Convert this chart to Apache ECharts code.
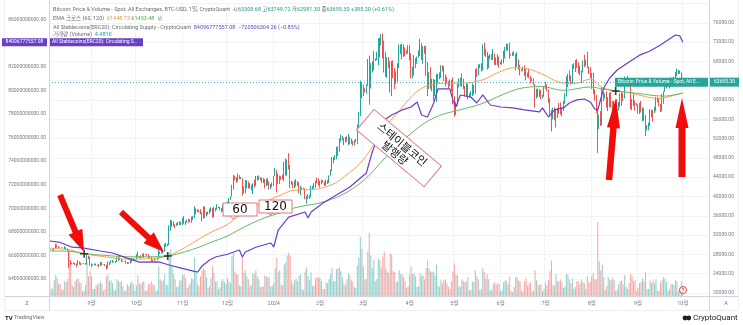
<!DOCTYPE html>
<html><head><meta charset="utf-8">
<script src="https://cdn.jsdelivr.net/npm/echarts@6/dist/echarts.min.js"></script>
<style>html,body{margin:0;padding:0;background:#fff}#c{width:743px;height:325px}</style>
</head><body><div id="c"></div>
<script>
// ---------- DATA ----------
const startDate = '2023-08-04';
const dayCount = 442;           // category slots on the time axis (incl. right margin)
const firstOpen = 29170;
const closes = [
29050,29040,29040,29180,29770,29570,29430,29400,29420,29280,29400,29170,28700,26630,26050,26100,26190,26120,26040,26430,26160,26050,26010,26090,26110,27730,27300,25930,
25800,25870,25970,25820,25780,25750,26240,25910,25900,25830,25160,25840,26230,26530,26610,26570,26530,26760,27210,27130,26570,26580,26580,26250,26300,26220,26370,27020,26910,26970,
27990,27510,27430,27800,27420,27950,27970,27940,27590,27390,26880,26760,26860,26860,27160,28520,28420,28330,28720,29680,29920,30000,33090,33920,34500,34160,33900,34090,34540,34500,34670,
35440,34940,34730,35080,35050,35050,35420,35650,36700,37330,37140,37070,36500,35540,37880,36160,36600,36590,37390,37480,35810,37420,37290,37720,37800,37480,37250,37830,37860,37720,
38690,39470,39980,41990,44080,43770,43290,44170,43720,43790,41240,41450,42890,43020,41940,42260,41360,42660,42270,43660,43860,43990,43740,43010,43610,42520,43440,42580,42070,42140,42280,
44180,44950,42850,44180,44160,43970,43930,46970,46120,46650,46340,42780,42840,41730,42510,43150,42740,41260,41620,41660,41550,39510,39850,40080,39930,41820,42120,42030,43300,42940,42580,
43080,43190,43000,42580,42660,43090,44340,45290,47130,47770,48290,49960,49740,51830,51940,52140,51640,52120,51780,52270,51840,51300,50730,51570,51730,54480,57050,62500,61200,
62430,62030,63130,68330,63800,66100,66930,68300,68500,69020,72100,71450,73080,71400,69400,65300,68390,67600,61930,67840,65500,63780,64050,67210,69960,69990,69450,70780,69900,69650,71330,
69700,65470,65980,68500,67840,68900,69360,71620,69140,70590,70060,67190,63820,65740,63420,63790,61280,63510,63840,64990,64940,66840,66410,64290,64500,63770,63460,63120,63860,60610,
58250,59120,62890,63890,64030,63160,62330,61190,63070,60790,60790,61450,62900,61550,66270,65230,67050,66940,66280,71450,70140,69120,67930,68530,69260,68510,69400,68300,67580,68350,67490,
67710,67750,68800,70560,71080,70790,69350,69300,69650,69510,67320,68240,66750,66010,66190,66640,66490,65150,64960,64840,64100,64260,63180,60280,61800,60860,61680,60320,60890,62680,
62850,62030,60200,57060,56660,58230,55850,56710,58050,57720,57340,57890,59200,60800,64720,65040,64100,63970,66680,67150,68170,67570,65930,65370,65780,67910,67810,68250,66780,66190,64620,
65350,61500,60700,58120,54020,56030,55130,61690,60840,60920,58710,59350,60600,58740,57560,58880,59490,58430,59480,59010,61160,60380,64090,64160,64220,62830,59420,59030,59380,59130,58970,
57300,59130,57480,57970,56160,53950,54160,54880,57040,57650,57340,58130,60570,60000,59130,58210,60310,61760,62950,63200,63350,63580,63330,64300,63140,65180,65790,65890,65600,63308.68,
63695.30];
const highs = [
29310,29110,29160,29240,30180,30060,29680,29540,29470,29450,29680,29460,29230,28780,26810,26260,26290,26260,26130,26790,26560,26310,26100,26170,26220,28140,27760,27570,
26130,25980,26110,26100,25880,26000,26430,26410,25940,26010,25870,26550,26390,26810,26860,26690,26620,27400,27480,27380,27160,26720,26620,26730,26430,26390,26830,27310,27230,27090,
28040,28580,27670,27840,28120,28270,28030,28100,27990,27730,27480,26940,27100,26980,27290,30000,28620,28980,28920,30200,30350,30200,34000,35150,35100,34820,34250,34480,34750,34860,34720,
35560,35950,34950,35260,35400,35270,35860,35980,37970,37520,37400,37240,37380,36760,37970,37920,36840,36840,37500,37750,37650,37860,37650,38420,37900,37830,37600,38380,38160,38020,
38990,39680,40000,42420,44480,44300,44030,44720,44400,44050,43800,42100,43440,43400,43090,42750,42440,42750,43480,44240,44290,44370,43990,43930,43800,43620,43680,43800,43120,42600,42900,
44200,45900,45500,44740,44350,44200,44500,47250,47900,47650,48970,46520,43250,43050,43350,43580,43190,42930,42180,41870,41830,41680,40130,40500,40280,42210,42200,42800,43300,43880,43740,
43280,43480,43380,43100,43500,43350,44380,45600,48200,48150,48560,50300,50380,52050,52840,52580,52170,52340,52480,52990,52350,52000,51560,51680,51920,54880,57550,64000,63650,
63200,62450,63250,68500,69200,67650,67980,70150,68650,70000,72800,72900,73650,73780,72300,70000,68900,68900,68100,68100,68200,66600,65950,67600,71500,71500,71700,71500,70900,70300,71360,
71350,69700,66900,69300,68700,69000,70300,72700,71750,71200,71200,71250,67900,65800,66800,64400,64400,64200,65400,65400,65700,67200,67200,67050,65300,64800,63900,64300,64200,64700,
60800,59600,63300,64500,64600,65500,64400,62900,63400,63400,61400,61800,63400,63100,66400,66600,67400,67400,67600,71500,71900,70600,70000,69200,69500,69500,70600,69600,68800,69500,69000,
67900,68400,70200,71000,71700,71600,71900,69500,69900,70100,69600,69900,68400,67300,66400,66900,67200,66500,65700,66400,65000,64500,64500,63300,62300,62400,62200,62100,61100,62900,
63800,63200,62200,60400,58000,58400,58500,58200,58300,59400,59500,58500,59800,61400,64900,65400,66100,65100,67400,67600,68300,68500,67800,67100,66100,68200,69400,68300,70000,66900,66800,
65600,65600,62200,61100,58300,57000,57700,62700,61700,61400,61800,60600,61500,61700,59800,59800,59700,60200,59600,61400,61800,61400,64900,64500,65000,64500,63200,60200,61200,59900,59400,
59100,59400,59800,58500,58300,56900,54800,55300,58100,58000,57900,58600,60600,60600,60400,59200,61300,61800,63800,64100,63500,64000,64800,64600,64800,65800,66500,66200,66100,65700,
63749.72];
const lows = [
28750,28960,28960,28700,29120,29380,29350,29350,29360,29250,29100,29060,28660,25170,25800,25980,26010,25820,25350,25800,25880,25780,25990,25970,25880,25920,27020,25650,
25340,25710,25800,25650,25570,25400,25640,25660,25810,25600,24900,25140,25750,26130,26240,26480,26180,26400,26680,26800,26370,26470,26520,26050,25990,26100,26120,26340,26680,26880,
26950,27360,27200,27230,27370,27300,27860,27700,27300,27300,26570,26550,26700,26810,26820,27120,28100,28160,28200,28620,29500,29680,29900,32900,33720,33800,33400,33880,34050,34080,34100,
34100,34350,34100,34600,34550,34760,34530,35120,35540,36350,36750,36700,36350,34800,35370,35550,35880,36220,36390,36780,35650,35680,36900,37250,37600,37170,36720,36880,37620,37500,
37620,38650,39300,39980,41420,43350,42850,43100,43600,43580,40220,40690,40620,41710,41670,41640,41260,40540,41830,42200,43330,43420,43310,42800,42750,41660,42120,42300,41420,41540,41980,
42180,44180,40800,42630,42600,43430,43600,43200,44300,44350,45600,41750,42450,41700,41700,42050,42210,40670,40280,41450,41530,39430,38500,39500,39500,39820,41400,41620,41800,42700,42300,
41880,42580,42880,42200,42260,42590,42790,44300,45250,46900,47550,47750,48380,49280,51350,51620,50650,51180,51400,50650,50850,50900,50550,50600,51300,50900,54430,56700,60400,
60800,61600,61320,62950,59000,62400,65700,66100,68100,68250,67200,68800,71300,68600,65700,64800,64600,66600,61550,60800,64500,62300,63300,63800,66600,69500,68400,68900,69100,69500,69600,
68200,64500,64500,65100,66600,67500,68750,69100,68300,67500,69600,65000,60800,62300,62300,61800,59800,60800,59600,63200,64300,64600,65900,63900,62800,63300,62400,62800,61800,59100,
56550,56900,58800,62600,62900,62700,62200,60700,60600,60200,60500,60600,60800,61100,61300,64800,65100,66600,65900,66100,69200,68900,66300,66600,68500,68300,68300,67300,67200,67200,66700,
67400,67300,67600,68600,70200,70200,68500,69200,69100,69200,66100,66900,66300,65100,65900,66000,65000,64100,64700,64500,63400,63900,63100,58400,60300,60600,60600,60100,60300,60700,
62300,61800,59400,56800,53500,56000,55800,54300,56300,57200,57000,56600,57800,59200,60700,62700,63900,63200,63300,66500,65800,66600,65500,65100,63500,65700,66800,67100,66600,65400,64500,
62300,61200,59900,57300,49000,54000,54600,54800,59700,60300,58400,57700,58500,58400,56100,57200,58800,58400,57800,58600,58800,59800,60300,63600,63800,62700,58100,57900,58800,57800,58800,
57200,57100,57400,55600,55700,52550,53700,53700,54600,56400,55500,57300,57700,59500,58700,57500,57600,59200,61700,62400,62800,62400,62700,62700,62900,62700,64900,65400,65400,62800,
62981.30];
const volumes = [ // thousand BTC
30,14,15,32,42,36,26,24,12,13,30,28,34,92,70,22,18,30,34,36,28,26,10,10,22,68,40,50,
40,14,14,22,24,26,28,24,10,14,40,44,30,32,26,12,12,34,30,28,30,20,9,12,24,20,26,30,24,10,
22,42,26,24,28,30,10,12,26,24,30,24,22,9,12,60,34,30,32,44,24,22,88,95,60,44,34,18,20,32,32,
42,44,36,16,20,26,36,34,78,46,24,20,40,52,56,52,38,16,20,36,60,46,30,30,14,18,30,34,28,24,
36,30,26,80,86,50,44,44,22,20,80,46,52,40,34,20,22,46,44,52,40,34,18,18,20,42,40,38,38,20,20,
26,56,78,48,52,22,22,64,68,82,88,82,32,24,32,36,30,40,44,14,12,50,58,40,32,48,20,22,36,38,38,
36,30,14,14,28,26,34,44,56,30,30,54,56,58,50,38,26,22,34,46,42,32,30,18,16,62,78,120,96,
60,34,34,90,128,82,56,74,30,34,76,72,58,80,90,56,50,46,86,84,50,48,28,30,52,44,44,38,30,16,20,
44,60,44,46,40,18,20,46,40,42,34,56,72,56,50,48,50,42,64,22,18,32,26,32,34,26,18,14,30,50,
66,44,42,20,18,34,30,28,30,38,12,12,30,28,52,40,34,12,14,56,48,34,44,34,12,12,24,28,22,26,24,
9,12,28,32,30,24,40,10,8,18,38,38,32,30,10,9,30,36,22,26,28,9,10,52,32,22,22,24,9,14,
26,22,32,50,72,22,22,44,30,30,34,28,16,20,44,44,34,26,36,14,18,30,30,24,34,28,26,14,40,28,28,
40,46,34,34,150,70,52,64,38,12,20,38,34,32,38,32,10,12,24,30,32,24,42,18,14,26,44,40,30,32,10,
16,26,28,36,30,48,14,14,32,26,32,26,34,10,10,28,32,38,36,28,10,14,24,24,22,32,30,10,10,30,
4.481];
const ema60Dates = ['2023-08-04','2023-08-18','2023-08-27','2023-09-10','2023-09-25','2023-10-08','2023-10-22','2023-11-03','2023-11-12','2023-11-20','2023-12-01','2023-12-08','2023-12-17','2023-12-26','2024-01-05','2024-01-13','2024-01-22','2024-01-31','2024-02-12','2024-02-19','2024-02-26','2024-03-04','2024-03-10','2024-03-16','2024-03-23','2024-04-01','2024-04-10','2024-04-18','2024-04-28','2024-05-08','2024-05-20','2024-05-31','2024-06-10','2024-06-20','2024-06-30','2024-07-10','2024-07-20','2024-07-31','2024-08-08','2024-08-17','2024-08-26','2024-09-06','2024-09-15','2024-09-23','2024-10-01'];
const ema60Values = [29300,28900,28150,27500,27000,27100,27670,29500,31200,32600,34200,35800,37600,38900,40200,41200,41400,41600,42900,44600,46300,48900,51800,54600,57000,60300,62600,63300,63500,63500,64200,65800,66700,66400,65200,63700,63400,64300,62600,61870,61500,60700,60300,60800,61448.73];
const ema120Dates = ['2023-08-04','2023-08-17','2023-08-27','2023-09-10','2023-09-25','2023-10-08','2023-10-22','2023-11-03','2023-11-12','2023-11-20','2023-12-01','2023-12-08','2023-12-17','2023-12-26','2024-01-05','2024-01-13','2024-01-22','2024-01-31','2024-02-12','2024-02-19','2024-02-26','2024-03-04','2024-03-12','2024-03-21','2024-03-30','2024-04-10','2024-04-21','2024-05-04','2024-05-19','2024-06-03','2024-06-14','2024-06-28','2024-07-13','2024-07-31','2024-08-08','2024-08-17','2024-08-31','2024-09-18','2024-10-01'];
const ema120Values = [28700,28650,28150,27800,27500,27500,27670,28600,29500,30500,31800,33000,34400,35600,36600,37500,38100,38600,39800,40900,42300,44100,46800,49800,52300,55000,56800,57900,59200,61200,62400,62800,62000,62700,62300,61870,61400,60800,61453.48];
const stableDates = ['2023-08-04','2023-08-10','2023-08-14','2023-08-19','2023-08-26','2023-09-07','2023-09-15','2023-09-25','2023-10-03','2023-10-16','2023-10-23','2023-10-31','2023-11-11','2023-11-14','2023-11-19','2023-11-23','2023-12-01','2023-12-09','2023-12-11','2023-12-13','2023-12-20','2023-12-30','2024-01-01','2024-01-04','2024-01-11','2024-01-22','2024-01-24','2024-01-26','2024-02-03','2024-02-12','2024-02-21','2024-03-03','2024-03-07','2024-03-15','2024-03-20','2024-03-27','2024-04-02','2024-04-06','2024-04-09','2024-04-13','2024-04-17','2024-04-20','2024-04-28','2024-04-30','2024-05-02','2024-05-05','2024-05-12','2024-05-16','2024-05-20','2024-05-25','2024-06-01','2024-06-09','2024-06-17','2024-06-27','2024-06-29','2024-07-03','2024-07-07','2024-07-13','2024-07-17','2024-07-22','2024-07-27','2024-07-31','2024-08-03','2024-08-05','2024-08-09','2024-08-13','2024-08-18','2024-08-23','2024-08-28','2024-09-02','2024-09-09','2024-09-16','2024-09-20','2024-09-26','2024-09-29','2024-10-01'];
const stableValues = [67.23e9,67.14e9,66.95e9,66.70e9,66.65e9,66.38e9,66.21e9,65.78e9,65.44e9,65.45e9,65.19e9,64.93e9,64.59e9,65.10e9,65.61e9,65.87e9,66.10e9,66.46e9,65.87e9,66.29e9,66.70e9,67.06e9,66.72e9,68.16e9,69.26e9,69.69e9,69.18e9,69.69e9,70.45e9,71.13e9,71.81e9,73.00e9,74.78e9,77.50e9,77.92e9,78.35e9,78.60e9,79.03e9,77.92e9,77.75e9,78.90e9,80.13e9,80.13e9,79.20e9,78.60e9,79.62e9,79.45e9,78.94e9,79.62e9,78.77e9,78.60e9,78.52e9,78.35e9,78.18e9,78.52e9,77.75e9,78.35e9,78.52e9,78.94e9,79.20e9,79.28e9,79.03e9,78.43e9,78.35e9,80.21e9,81.06e9,81.74e9,82.17e9,82.59e9,83.00e9,83.35e9,83.86e9,84.20e9,84.71e9,84.63e9,84096777557.08];
const crossDates = ['2023-08-27','2023-10-22','2024-08-17'];
const crossValues = [28150,27670,61870];
const lastPrice = 63695.30;
const lastStable = 84096777557.08;
const priceTicks = {min:20000, max:80000, step:4000};
const stableTicks = {min:62e9, max:86e9, step:2e9};

// ---------- BUILD ----------
const cats = [];
{ const d = new Date(startDate + 'T00:00:00Z');
  for (let i = 0; i < dayCount; i++) { cats.push(d.toISOString().slice(0,10)); d.setUTCDate(d.getUTCDate()+1); } }
const UP = '#26a69a', DOWN = '#ef5350';
const candle = closes.map((c,i) => { const o = i === 0 ? firstOpen : closes[i-1]; return [o, c, lows[i], highs[i]]; });
const vol = volumes.map((v,i) => ({ value: v, itemStyle: { color: candle[i][1] >= candle[i][0] ? 'rgba(38,166,154,0.5)' : 'rgba(239,83,80,0.5)' } }));
const pairs = (ds, vs) => ds.map((d,i) => [d, vs[i]]);
const FONT = 'Roboto, "Noto Sans CJK KR", sans-serif';
const isMonthStart = (idx, v) => v.slice(8) === '01';
const monthLabel = v => { const m = +v.slice(5,7); return m === 1 ? v.slice(0,4) : m + '월'; };

const chart = echarts.init(document.getElementById('c'), null, {renderer:'canvas'});
const G = {left:49, right:34};
chart.setOption({
  animation:false,
  backgroundColor:'#fff',
  grid:[
    {left:G.left, right:G.right, top:3.5, bottom:32},
    {left:G.left, right:G.right, top:0, bottom:29},
    {left:G.left, right:G.right, top:19.8, bottom:22.4}
  ],
  xAxis:[
    {type:'category', gridIndex:0, data:cats, show:false},
    {type:'category', gridIndex:1, data:cats, axisLine:{show:false}, axisTick:{show:false},
     axisLabel:{interval:isMonthStart, formatter:monthLabel, fontSize:5.5, color:'#787b86', margin:5, fontFamily:FONT},
     splitLine:{show:true, interval:isMonthStart, lineStyle:{color:'#f0f3fa', width:1}}},
    {type:'category', gridIndex:2, data:cats, show:false}
  ],
  yAxis:[
    {type:'value', gridIndex:0, position:'right', min:priceTicks.min, max:priceTicks.max, interval:priceTicks.step,
     axisLine:{show:false}, axisTick:{show:false},
     axisLabel:{formatter:v=>v.toFixed(2), fontSize:5, color:'#787b86', margin:4, showMaxLabel:false, fontFamily:FONT},
     splitLine:{lineStyle:{color:'#f0f3fa'}}},
    {type:'value', gridIndex:1, min:0, max:600, show:false},
    {type:'value', gridIndex:2, position:'left', min:stableTicks.min, max:stableTicks.max, interval:stableTicks.step,
     axisLine:{show:false}, axisTick:{show:false}, splitLine:{show:false},
     axisLabel:{formatter:v=>v.toFixed(2), fontSize:5, color:'#787b86', margin:3, showMinLabel:false, fontFamily:FONT}}
  ],
  series:[
    {type:'bar', name:'volume', xAxisIndex:1, yAxisIndex:1, data:vol, barWidth:'70%', z:1},
    {type:'candlestick', name:'BTC', xAxisIndex:0, yAxisIndex:0, data:candle, barWidth:'75%', z:3,
     itemStyle:{color:UP, color0:DOWN, borderColor:UP, borderColor0:DOWN, borderWidth:1},
     markLine:{silent:true, symbol:['none','none'], label:{show:false},
       lineStyle:{color:'#26a69a', type:[1,2], width:1, opacity:0.8}, data:[{yAxis:lastPrice}]}},
    {type:'line', name:'EMA60', xAxisIndex:0, yAxisIndex:0, data:pairs(ema60Dates, ema60Values), showSymbol:false, smooth:0.35,
     lineStyle:{color:'#f6a254', width:1}, z:4},
    {type:'line', name:'EMA120', xAxisIndex:0, yAxisIndex:0, data:pairs(ema120Dates, ema120Values), showSymbol:false, smooth:0.35,
     lineStyle:{color:'#68b86a', width:1}, z:4},
    {type:'line', name:'Stablecoins', xAxisIndex:2, yAxisIndex:2, data:pairs(stableDates, stableValues), showSymbol:false,
     lineStyle:{color:'#6a3fc8', width:1.2}, z:5},
    {type:'scatter', name:'cross', xAxisIndex:0, yAxisIndex:0, data:pairs(crossDates, crossValues),
     symbol:'path://M4,0h2v4h4v2h-4v4h-2v-4h-4v-2h4z', symbolSize:8, itemStyle:{color:'#111'}, z:8}
  ]
});

// ---------- ANNOTATIONS ----------
const yPrice = chart.convertToPixel({yAxisIndex:0}, lastPrice);
const yStable = chart.convertToPixel({yAxisIndex:2}, lastStable);
function arrow(tx,ty,hx,hy,w,hl,hw){
  const dx=hx-tx, dy=hy-ty, L=Math.hypot(dx,dy), ux=dx/L, uy=dy/L, px=-uy, py=ux;
  const bx=hx-ux*hl, by=hy-uy*hl;
  return [[tx+px*w/2,ty+py*w/2],[bx+px*w/2,by+py*w/2],[bx+px*hw/2,by+py*hw/2],[hx,hy],
          [bx-px*hw/2,by-py*hw/2],[bx-px*w/2,by-py*w/2],[tx-px*w/2,ty-py*w/2]];
}
const red = '#f20d0d';
const box = (x,y,w,h,txt,tipX,tipY) => ([
  {type:'polygon', shape:{points:[[tipX-3,y+h-0.5],[tipX+4,y+h-0.5],[tipX,tipY]]}, style:{fill:'#fff', stroke:'#e07a7a', lineWidth:1}, z:20},
  {type:'rect', shape:{x,y,width:w,height:h}, style:{fill:'#fff', stroke:'#e07a7a', lineWidth:1}, z:21},
  {type:'text', x:x+w/2, y:y+h/2+0.5, style:{text:txt, font:'12px "DejaVu Sans", sans-serif', fill:'#111', align:'center', verticalAlign:'middle'}, z:22}
]);
const LF = '5.5px ' + FONT;
const legendRich = {
  g:{fill:'#6a6d78', font:LF},
  t:{fill:'#22a094', font:LF},
  o:{fill:'#f39a3e', font:LF},
  gr:{fill:'#4caf50', font:LF},
  p:{fill:'#6a3fc8', font:LF}
};
const leg = (y, text) => ({type:'text', x:53, y, style:{text, rich:legendRich, verticalAlign:'middle'}, z:30});
chart.setOption({graphic:[
  // frame lines
  {type:'line', shape:{x1:49.5,y1:0,x2:49.5,y2:310}, style:{stroke:'#d1d4dc', lineWidth:1}, z:10},
  {type:'line', shape:{x1:709.5,y1:0,x2:709.5,y2:310}, style:{stroke:'#d1d4dc', lineWidth:1}, z:10},
  {type:'line', shape:{x1:4,y1:296.5,x2:738,y2:296.5}, style:{stroke:'#d1d4dc', lineWidth:1}, z:10},
  {type:'line', shape:{x1:4,y1:310.5,x2:738,y2:310.5}, style:{stroke:'#eceef2', lineWidth:1}, z:10},
  {type:'line', shape:{x1:4.5,y1:0,x2:4.5,y2:310}, style:{stroke:'#eceef2', lineWidth:1}, z:10},
  {type:'line', shape:{x1:738.5,y1:0,x2:738.5,y2:310}, style:{stroke:'#eceef2', lineWidth:1}, z:10},
  {type:'text', x:27, y:303.5, style:{text:'Z', font:'5.5px '+FONT, fill:'#787b86', align:'center', verticalAlign:'middle'}},
  {type:'text', x:726, y:303.5, style:{text:'A', font:'5.5px '+FONT, fill:'#787b86', align:'center', verticalAlign:'middle'}},
  // legend
  leg(10, '{g|Bitcoin: Price & Volume - Spot, All Exchanges, BTC-USD, 1일, CryptoQuant  }{g|시}{t|63308.68 }{g|고}{t|63749.72 }{g|저}{t|62981.30 }{g|종}{t|63695.30 +385.20 (+0.61%)}'),
  leg(19, '{g|EMA 크로스 (60, 120)  }{o|61448.73 }{gr|61453.48 }{g| ⊘}'),
  leg(27.5, '{g|All Stablecoins(ERC20): Circulating Supply - CryptoQuant  }{p|84096777557.08  −720506304.26 (−0.85%)}'),
  leg(35, '{g|거래량 (Volume)  }{t|4.481K}'),
  // left purple tags
  {type:'rect', shape:{x:2,y:yStable-4,width:45,height:8}, style:{fill:'#6a3fc8'}, z:30},
  {type:'text', x:24.5, y:yStable, style:{text:'84096777557.08', font:'5px '+FONT, fill:'#fff', align:'center', verticalAlign:'middle'}, z:31},
  {type:'rect', shape:{x:50,y:yStable-4,width:93,height:8}, style:{fill:'#6a3fc8'}, z:30},
  {type:'text', x:52, y:yStable, style:{text:'All Stablecoins(ERC20): Circulating S...', font:'5px '+FONT, fill:'#fff', verticalAlign:'middle'}, z:31},
  // right teal tags
  {type:'rect', shape:{x:615,y:yPrice-4.5,width:93,height:9}, style:{fill:'#26a69a'}, z:30},
  {type:'text', x:618, y:yPrice, style:{text:'Bitcoin: Price & Volume - Spot, All E...', font:'5px '+FONT, fill:'#fff', verticalAlign:'middle'}, z:31},
  {type:'rect', shape:{x:710,y:yPrice-4.5,width:29,height:9}, style:{fill:'#26a69a'}, z:30},
  {type:'text', x:724.5, y:yPrice, style:{text:'63695.30', font:'5px '+FONT, fill:'#fff', align:'center', verticalAlign:'middle'}, z:31},
  // red arrows
  {type:'polygon', shape:{points:arrow(60,195,84,252,6,22,15)}, style:{fill:red}, z:25},
  {type:'polygon', shape:{points:arrow(121,212,164,252,6,21,15)}, style:{fill:red}, z:25},
  {type:'polygon', shape:{points:arrow(609,180,616,98,6.5,30,13)}, style:{fill:red}, z:25},
  {type:'polygon', shape:{points:arrow(682,177,682,98,7,30,13)}, style:{fill:red}, z:25},
  // 60 / 120 boxes
  ...box(223,203,34,13,'60',233,219),
  ...box(259,200,33,13,'120',270,215),
  // rotated stablecoin box
  {type:'group', x:399, y:148, rotation:-40*Math.PI/180, z:20, children:[
    {type:'rect', shape:{x:-44,y:-13.5,width:88,height:27}, style:{fill:'#fff', stroke:'#e07a7a', lineWidth:1}, z:20},
    {type:'text', x:0, y:0.5, style:{text:'스테이블코인\n발행량', font:'11px "Noto Sans CJK KR", sans-serif', lineHeight:11.5, fill:'#111', align:'center', verticalAlign:'middle'}, z:21}
  ]},
  // red event circle
  {type:'circle', shape:{cx:683,cy:290,r:3.5}, style:{fill:'#fff', stroke:'#e53935', lineWidth:1}, z:26},
  {type:'text', x:683, y:290.3, style:{text:'?', font:'bold 5px '+FONT, fill:'#e53935', align:'center', verticalAlign:'middle'}, z:27},
  // footer logos
  {type:'text', x:5, y:318, style:{text:'TV', font:'bold 6px '+FONT, fill:'#131722', verticalAlign:'middle'}},
  {type:'text', x:14, y:318, style:{text:'TradingView', font:'5.5px '+FONT, fill:'#6a6d78', verticalAlign:'middle'}},
  {type:'circle', shape:{cx:685,cy:318,r:2.4}, style:{fill:'#222'}},
  {type:'circle', shape:{cx:688.8,cy:318,r:2.4}, style:{fill:'#222'}},
  {type:'text', x:693, y:318, style:{text:'CryptoQuant', font:'8px '+FONT, fill:'#222', verticalAlign:'middle'}}
]});
</script>
</body></html>
